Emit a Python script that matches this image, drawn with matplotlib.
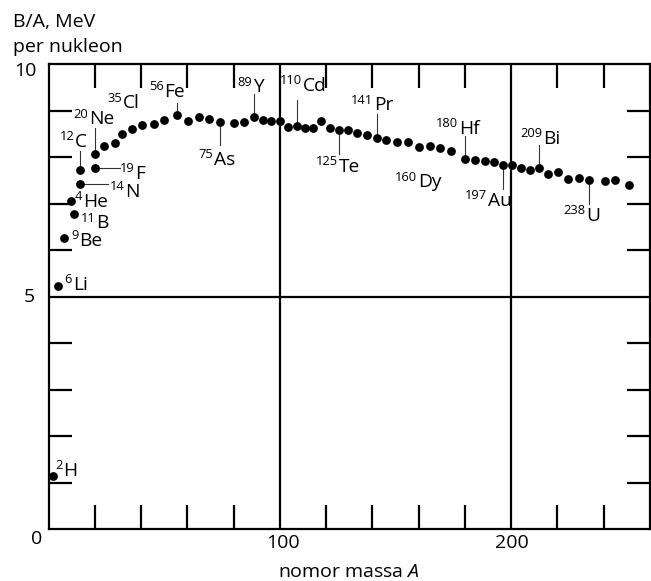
import matplotlib
matplotlib.use("Agg")
import matplotlib.pyplot as plt

plt.rcParams['font.family'] = ['Open Sans', 'DejaVu Sans']
plt.rcParams['mathtext.fontset'] = 'custom'
plt.rcParams['mathtext.rm'] = 'Open Sans'
plt.rcParams['mathtext.it'] = 'Open Sans:italic'

# ---- data (mass number A, binding energy per nucleon B/A in MeV) ----
mass_A = [2.0, 4.2, 6.8, 9.7, 11.0, 13.6, 13.6, 20.0, 20.0, 24.1, 28.7, 31.6, 35.9,
          40.3, 45.5, 49.9, 55.7, 60.1, 65.0, 69.4, 74.1, 80.1, 84.6, 88.8, 92.8,
          96.1, 100.0, 103.6, 107.2, 110.8, 114.4, 118.0, 121.6, 125.6, 129.5,
          133.4, 137.5, 141.8, 146.1, 150.6, 155.4, 160.2, 164.8, 169.4, 173.9,
          180.2, 184.2, 188.6, 192.6, 196.5, 200.5, 204.4, 208.0, 211.9, 215.9,
          220.2, 224.5, 229.2, 233.5, 240.4, 245.0, 250.9]
bind_E = [1.14, 5.23, 6.27, 7.05, 6.77, 7.43, 7.72, 7.76, 8.06, 8.24, 8.31, 8.49, 8.60,
          8.69, 8.72, 8.80, 8.91, 8.77, 8.87, 8.83, 8.75, 8.74, 8.76, 8.87, 8.81,
          8.78, 8.77, 8.65, 8.67, 8.62, 8.63, 8.77, 8.63, 8.58, 8.58,
          8.53, 8.47, 8.42, 8.37, 8.33, 8.33, 8.22, 8.24, 8.19, 8.13,
          7.97, 7.94, 7.92, 7.90, 7.83, 7.83, 7.76, 7.72, 7.77, 7.65,
          7.68, 7.54, 7.56, 7.52, 7.48, 7.50, 7.40]

# isotope labels: mass-number superscript, symbol, label anchor (data coords)
iso_num = ['2', '6', '9', '4', '11', '14', '12', '19', '20', '35', '56', '75', '89',
           '110', '125', '141', '160', '180', '197', '209', '238']
iso_sym = ['H', 'Li', 'Be', 'He', 'B', 'N', 'C', 'F', 'Ne', 'Cl', 'Fe', 'As', 'Y',
           'Cd', 'Te', 'Pr', 'Dy', 'Hf', 'Au', 'Bi', 'U']
lab_A = [6.5, 10.5, 13.2, 15.0, 20.5, 33.0, 11.4, 37.4, 17.6, 32.3, 50.0, 71.5, 88.4,
         109.8, 125.6, 140.6, 159.7, 177.3, 189.9, 214.0, 232.4]
lab_B = [1.14, 5.15, 6.09, 6.93, 6.47, 7.15, 8.22, 7.54, 8.71, 9.05, 9.30, 7.83, 9.40,
         9.43, 7.68, 9.01, 7.35, 8.51, 6.95, 8.29, 6.63]

# leader lines: (start A, start B, end A, end B)
lead_A0 = [55.7, 20.0, 13.6, 20.0, 13.6, 74.1, 88.8, 107.2, 125.6, 141.8, 180.2, 196.5, 211.9, 233.5]
lead_B0 = [8.91, 8.06, 7.72, 7.76, 7.43, 8.75, 8.87, 8.67, 8.58, 8.42, 7.97, 7.83, 7.77, 7.52]
lead_A1 = [55.7, 20.0, 13.6, 30.9, 25.8, 74.1, 88.8, 107.2, 125.6, 141.8, 180.2, 196.5, 211.9, 233.5]
lead_B1 = [9.16, 8.63, 8.14, 7.76, 7.43, 8.26, 9.37, 9.23, 8.08, 8.94, 8.45, 7.31, 8.27, 7.00]

x_minor = [20, 40, 60, 80, 120, 140, 160, 180, 220, 240]
y_minor = [1, 2, 3, 4, 6, 7, 8, 9]
x_labels = ['0', '100', '200']
y_labels = ['5', '10']

W, H = 651, 581
fig = plt.figure(figsize=(W / 100, H / 100), dpi=100)
ax = fig.add_axes([48.5 / W, 1 - 529 / H, (650 - 48.5) / W, (529 - 64.3) / H])
ax.set_xlim(0, 260)
ax.set_ylim(0, 10)

for s in ax.spines.values():
    s.set_linewidth(1.6)
    s.set_color('black')

ax.set_xticks([])
ax.set_yticks([])
ax.set_xticks(x_minor, minor=True)
ax.set_yticks(y_minor, minor=True)
ax.tick_params(which='minor', axis='x', direction='in', length=17, width=1.6,
               top=True, bottom=True, labelbottom=False)
ax.tick_params(which='minor', axis='y', direction='in', length=16.5, width=1.6,
               left=True, right=True, labelleft=False)

ax.axvline(100, color='black', lw=1.6)
ax.axvline(200, color='black', lw=1.6)
ax.axhline(5, color='black', lw=1.6)

# leaders
for a0, b0, a1, b1 in zip(lead_A0, lead_B0, lead_A1, lead_B1):
    ax.plot([a0, a1], [b0, b1], color='#333333', lw=0.8, zorder=2)

ax.scatter(mass_A, bind_E, s=40, color='black', zorder=3, clip_on=False, linewidths=0)

for n, sym, la, lb in zip(iso_num, iso_sym, lab_A, lab_B):
    ax.annotate(sym, (la, lb), xytext=(0.0, 0), textcoords='offset points',
                ha='left', va='baseline', fontsize=13.8)
    ax.annotate(n, (la, lb), xytext=(-0.5, 4.8), textcoords='offset points',
                ha='right', va='baseline', fontsize=9.3)

# tick labels
fs = 14
fig.text(36.7 / W, 1 - 539 / H, x_labels[0], ha='center', va='center', fontsize=fs)
fig.text(283 / W, 1 - 543 / H, x_labels[1], ha='center', va='center', fontsize=fs)
fig.text(512 / W, 1 - 543 / H, x_labels[2], ha='center', va='center', fontsize=fs)
fig.text(35 / W, 1 - 296.7 / H, y_labels[0], ha='right', va='center', fontsize=fs)
fig.text(37 / W, 1 - 71 / H, y_labels[1], ha='right', va='center', fontsize=fs)

fig.text(349 / W, 1 - 572 / H, r'nomor massa $\mathit{A}$', ha='center', va='center', fontsize=fs)
fig.text(13 / W, 1 - 27 / H, 'B/A, MeV', ha='left', va='baseline', fontsize=fs)
fig.text(13 / W, 1 - 52 / H, 'per nukleon', ha='left', va='baseline', fontsize=fs)

fig.savefig('out.png', dpi=100)
